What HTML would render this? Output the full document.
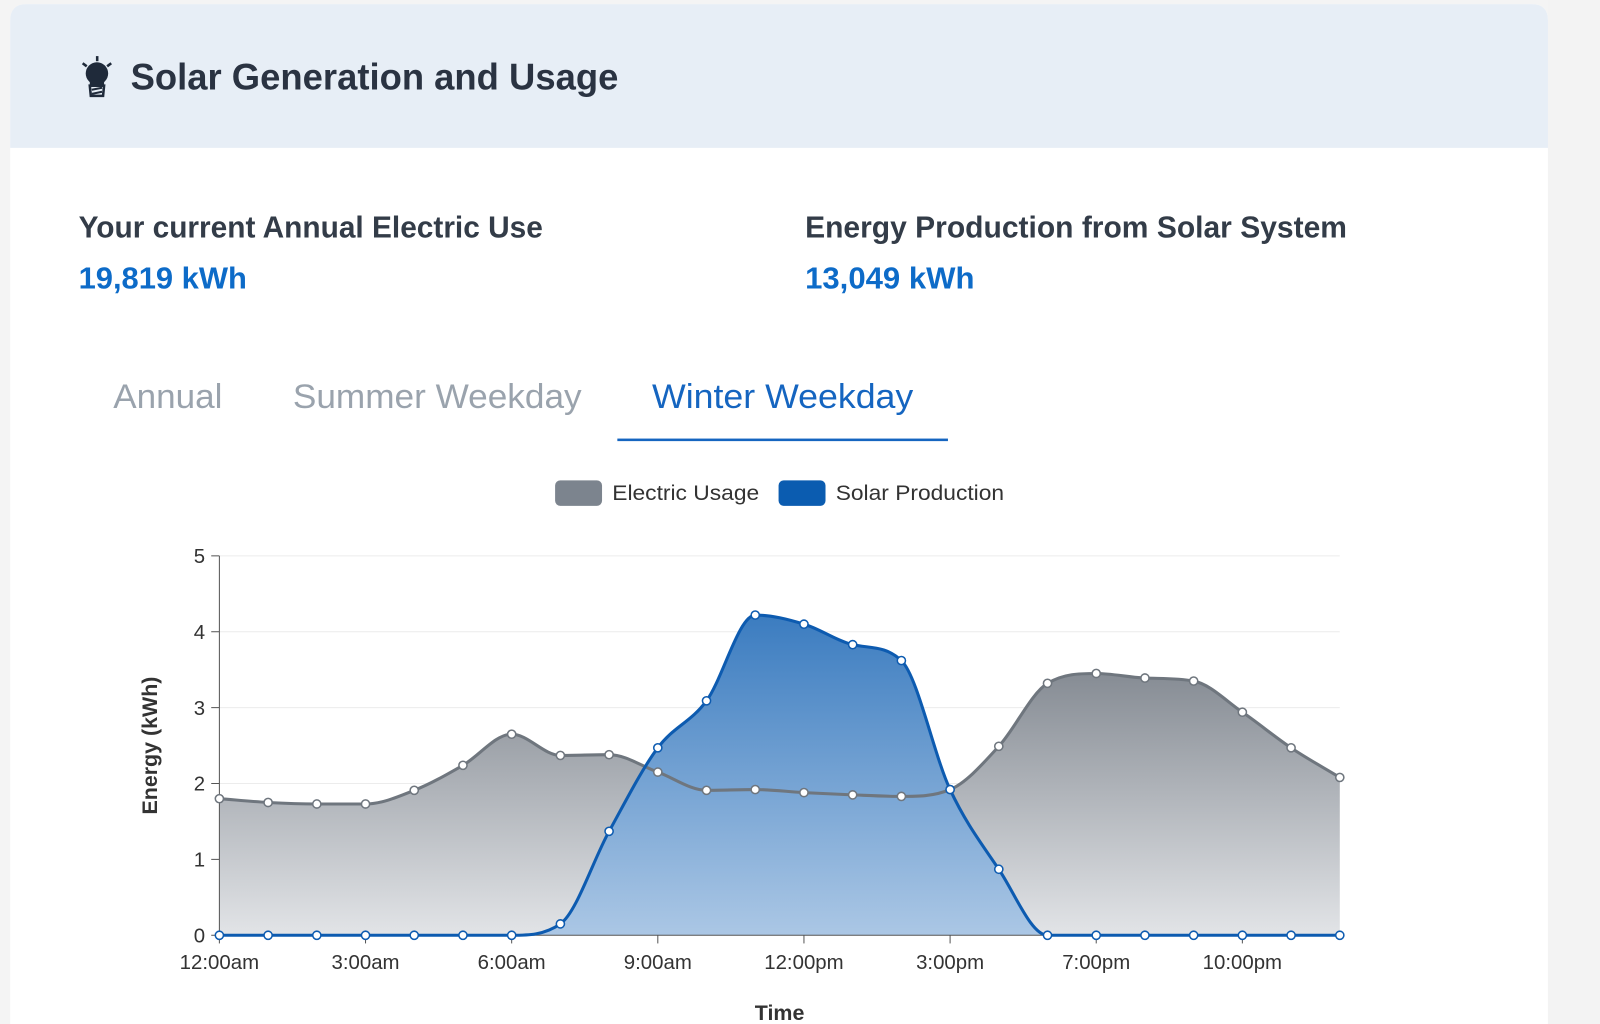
<!DOCTYPE html>
<html><head><meta charset="utf-8"><style>
html,body{margin:0;padding:0;background:#f4f4f4;overflow:hidden}
svg{display:block;font-family:"Liberation Sans",sans-serif}
</style></head><body>
<svg id="root" width="1600" height="1024" viewBox="0 0 1568 1004" preserveAspectRatio="none" xmlns="http://www.w3.org/2000/svg">
<defs>
<linearGradient id="gGray" x1="0" y1="0" x2="0" y2="1"><stop offset="0" stop-color="#868c94"/><stop offset="1" stop-color="#e2e4e7"/></linearGradient>
<linearGradient id="gBlue" x1="0" y1="0" x2="0" y2="1"><stop offset="0" stop-color="#3b7cc0"/><stop offset="1" stop-color="#abc7e5"/></linearGradient>
</defs>
<rect x="0" y="0" width="1568" height="1004" fill="#f4f4f4"/>
<rect x="1517" y="0" width="51" height="1004" fill="#f3f3f3"/>
<g>
<path d="M10 20 Q10 4 26 4 L1501 4 Q1517 4 1517 20 L1517 1004 L10 1004 Z" fill="#ffffff"/>
<path d="M10 20 Q10 4 26 4 L1501 4 Q1517 4 1517 20 L1517 145 L10 145 Z" fill="#e7eef6"/>
</g>
<g fill="#1f2a3a">
<circle cx="95" cy="72" r="11"/>
<rect x="88" y="79" width="14" height="6"/>
<path d="M88 84 L102 84 L101 94 L89 94 Z" fill="none" stroke="#1f2a3a" stroke-width="2.5"/>
<line x1="90" y1="88" x2="100" y2="86" stroke="#1f2a3a" stroke-width="2"/>
<line x1="90" y1="92" x2="100" y2="90" stroke="#1f2a3a" stroke-width="2"/>
<rect x="94" y="55" width="2.5" height="5"/>
<line x1="81" y1="62" x2="85" y2="65" stroke="#1f2a3a" stroke-width="2.5"/>
<line x1="109" y1="62" x2="105" y2="65" stroke="#1f2a3a" stroke-width="2.5"/>
</g>
<text x="128" y="88" font-size="36" font-weight="bold" fill="#2a3342" textLength="478" lengthAdjust="spacingAndGlyphs">Solar Generation and Usage</text>
<text x="77" y="233" font-size="30" font-weight="bold" fill="#333c48" textLength="455" lengthAdjust="spacingAndGlyphs">Your current Annual Electric Use</text>
<text x="77" y="283" font-size="30" font-weight="bold" fill="#0d6bc8" textLength="165" lengthAdjust="spacingAndGlyphs">19,819 kWh</text>
<text x="789" y="233" font-size="30" font-weight="bold" fill="#333c48" textLength="531" lengthAdjust="spacingAndGlyphs">Energy Production from Solar System</text>
<text x="789" y="283" font-size="30" font-weight="bold" fill="#0d6bc8" textLength="166" lengthAdjust="spacingAndGlyphs">13,049 kWh</text>
<text x="111" y="400" font-size="34" fill="#9aa3ad" textLength="107" lengthAdjust="spacingAndGlyphs">Annual</text>
<text x="287" y="400" font-size="34" fill="#9aa3ad" textLength="283" lengthAdjust="spacingAndGlyphs">Summer Weekday</text>
<text x="639" y="400" font-size="34" fill="#1565c0" textLength="256" lengthAdjust="spacingAndGlyphs">Winter Weekday</text>
<rect x="605" y="430" width="324" height="2.5" fill="#1565c0"/>
<g>
<rect x="544" y="471" width="46" height="25" rx="5" fill="#7c848e"/>
<text x="600" y="490" font-size="21" fill="#333" textLength="144" lengthAdjust="spacingAndGlyphs">Electric Usage</text>
<rect x="763" y="471" width="46" height="25" rx="5" fill="#0b5cb0"/>
<text x="819" y="490" font-size="21" fill="#333" textLength="165" lengthAdjust="spacingAndGlyphs">Solar Production</text>
</g>
<g id="chart"></g>
<text x="764" y="1000" font-size="21" font-weight="bold" fill="#333" text-anchor="middle">Time</text>
<text x="0" y="0" font-size="21" font-weight="bold" fill="#333" text-anchor="middle" transform="translate(154,731) rotate(-90)">Energy (kWh)</text>
</svg>
<script>
const hours = ["12:00am","1:00am","2:00am","3:00am","4:00am","5:00am","6:00am","7:00am","8:00am","9:00am","10:00am","11:00am","12:00pm","1:00pm","2:00pm","3:00pm","4:00pm","5:00pm","6:00pm","7:00pm","8:00pm","9:00pm","10:00pm","11:00pm"];
const usage = [1.80,1.75,1.73,1.73,1.91,2.24,2.65,2.37,2.38,2.15,1.91,1.92,1.88,1.85,1.83,1.92,2.49,3.32,3.45,3.39,3.35,2.94,2.47,2.08];
const solar = [0,0,0,0,0,0,0,0.15,1.37,2.47,3.09,4.22,4.10,3.83,3.62,1.92,0.87,0,0,0,0,0,0,0];
const yTicks = [0,1,2,3,4,5];
const xTickIdx = [0,3,6,9,12,15,18,21];
const xTickLabels = ["12:00am","3:00am","6:00am","9:00am","12:00pm","3:00pm","7:00pm","10:00pm"];

const NS="http://www.w3.org/2000/svg";
const X0=215,X1=1313,Y0=917,Y1=545,YMAX=5;
function xs(i){return X0+i*(X1-X0)/(hours.length-1);}
function ys(v){return Y0-v*(Y0-Y1)/YMAX;}
const g=document.getElementById('chart');
function mk(tag,attrs){const e=document.createElementNS(NS,tag);for(const k in attrs)e.setAttribute(k,attrs[k]);g.appendChild(e);return e;}

function monoPath(pts){
  const n=pts.length,dx=[],sl=[],m=[];
  for(let i=0;i<n-1;i++){dx[i]=pts[i+1][0]-pts[i][0];sl[i]=(pts[i+1][1]-pts[i][1])/dx[i];}
  m[0]=sl[0];m[n-1]=sl[n-2];
  for(let i=1;i<n-1;i++){m[i]=(sl[i-1]*sl[i]<=0)?0:(sl[i-1]+sl[i])/2;}
  for(let i=0;i<n-1;i++){
    if(sl[i]===0){m[i]=0;m[i+1]=0;continue;}
    const a=m[i]/sl[i],b=m[i+1]/sl[i],s=a*a+b*b;
    if(s>9){const t=3/Math.sqrt(s);m[i]=t*a*sl[i];m[i+1]=t*b*sl[i];}
  }
  let d="M"+pts[0][0]+" "+pts[0][1];
  for(let i=0;i<n-1;i++){const h=dx[i]/3;
    d+=" C"+(pts[i][0]+h)+" "+(pts[i][1]+m[i]*h)+" "+(pts[i+1][0]-h)+" "+(pts[i+1][1]-m[i+1]*h)+" "+pts[i+1][0]+" "+pts[i+1][1];}
  return d;
}

yTicks.forEach(v=>{
  if(v>0){const gl=mk('line',{x1:X0,x2:X1,y1:ys(v),y2:ys(v),stroke:'#ececec','stroke-width':1});
  
  }
  mk('line',{x1:X0-8,x2:X0,y1:ys(v),y2:ys(v),stroke:'#555','stroke-width':1});
  const t=mk('text',{x:X0-14,y:ys(v)+7,'font-size':20,fill:'#333','text-anchor':'end'});
  
  
  t.textContent=v;
});

const up=usage.map((v,i)=>[xs(i),ys(v)]);
const sp=solar.map((v,i)=>[xs(i),ys(v)]);
const ud=monoPath(up), sd=monoPath(sp);
const ua=mk('path',{d:ud+" L"+X1+" "+Y0+" L"+X0+" "+Y0+" Z",fill:'url(#gGray)'});


const sa=mk('path',{d:sd+" L"+X1+" "+Y0+" L"+X0+" "+Y0+" Z",fill:'url(#gBlue)'});



mk('line',{x1:X0,x2:X0,y1:Y1,y2:Y0,stroke:'#555','stroke-width':1});
mk('line',{x1:X0,x2:X1,y1:Y0,y2:Y0,stroke:'#555','stroke-width':1});
xTickIdx.forEach((idx,k)=>{
  mk('line',{x1:xs(idx),x2:xs(idx),y1:Y0,y2:Y0+8,stroke:'#555','stroke-width':1});
  const t=mk('text',{x:xs(idx),y:950,'font-size':20,fill:'#333','text-anchor':'middle'});
  
  
  t.textContent=xTickLabels[k];
});

const ul=mk('path',{d:ud,fill:'none',stroke:'#6f767e','stroke-width':3});


const sl2=mk('path',{d:sd,fill:'none',stroke:'#0d5bb0','stroke-width':3});


up.forEach(p=>{const c=mk('circle',{cx:p[0],cy:p[1],r:4,fill:'#fff',stroke:'#6f767e','stroke-width':1.5});
  
  });
sp.forEach(p=>{const c=mk('circle',{cx:p[0],cy:p[1],r:4,fill:'#fff',stroke:'#0d5bb0','stroke-width':1.5});
  
  });
</script>
</body></html>
